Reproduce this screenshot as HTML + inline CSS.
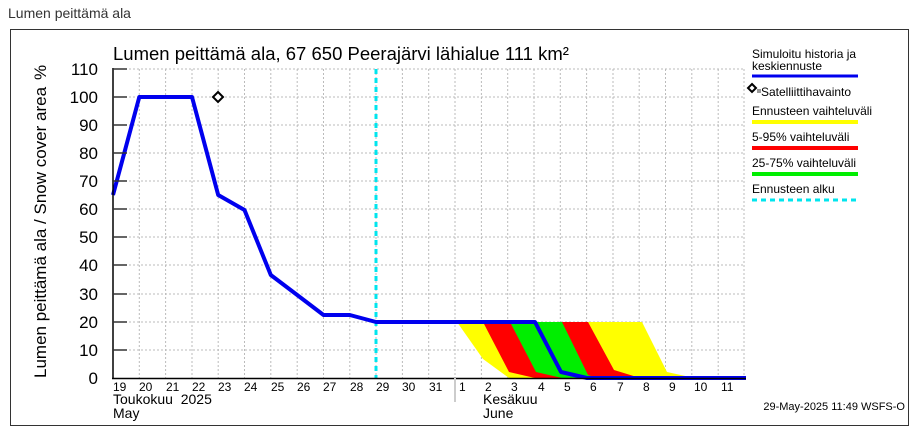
<!DOCTYPE html>
<html><head><meta charset="utf-8"><style>
body{margin:0;background:#fff;width:917px;height:434px;overflow:hidden}
svg{display:block;font-family:"Liberation Sans",sans-serif}
</style></head><body>
<svg width="917" height="434" viewBox="0 0 917 434">
<text x="8" y="18" font-size="14" fill="#333">Lumen peittämä ala</text>
<rect x="10.5" y="29.5" width="898" height="396" fill="#fff" stroke="#333" stroke-width="1"/>
<text x="113" y="60" font-size="18.5" fill="#000">Lumen peittämä ala, 67 650 Peerajärvi lähialue 111 km²</text>
<!-- grid -->
<g stroke="#bbb" stroke-width="1" stroke-dasharray="2,2">
<line x1="113" y1="69" x2="744" y2="69"/><line x1="113" y1="97" x2="744" y2="97"/><line x1="113" y1="125" x2="744" y2="125"/><line x1="113" y1="153" x2="744" y2="153"/><line x1="113" y1="181" x2="744" y2="181"/><line x1="113" y1="209" x2="744" y2="209"/><line x1="113" y1="237" x2="744" y2="237"/><line x1="113" y1="265" x2="744" y2="265"/><line x1="113" y1="294" x2="744" y2="294"/><line x1="113" y1="322" x2="744" y2="322"/><line x1="113" y1="350" x2="744" y2="350"/>
<line x1="139.3" y1="69" x2="139.3" y2="378"/><line x1="165.6" y1="69" x2="165.6" y2="378"/><line x1="192" y1="69" x2="192" y2="378"/><line x1="218.2" y1="69" x2="218.2" y2="378"/><line x1="244.5" y1="69" x2="244.5" y2="378"/><line x1="270.8" y1="69" x2="270.8" y2="378"/><line x1="297.2" y1="69" x2="297.2" y2="378"/><line x1="323.5" y1="69" x2="323.5" y2="378"/><line x1="349.8" y1="69" x2="349.8" y2="378"/><line x1="376" y1="69" x2="376" y2="378"/><line x1="402.4" y1="69" x2="402.4" y2="378"/><line x1="428.7" y1="69" x2="428.7" y2="378"/><line x1="455" y1="69" x2="455" y2="378"/><line x1="481.4" y1="69" x2="481.4" y2="378"/><line x1="507.7" y1="69" x2="507.7" y2="378"/><line x1="534" y1="69" x2="534" y2="378"/><line x1="560.3" y1="69" x2="560.3" y2="378"/><line x1="586.6" y1="69" x2="586.6" y2="378"/><line x1="613" y1="69" x2="613" y2="378"/><line x1="639.2" y1="69" x2="639.2" y2="378"/><line x1="665.5" y1="69" x2="665.5" y2="378"/><line x1="691.8" y1="69" x2="691.8" y2="378"/><line x1="718.2" y1="69" x2="718.2" y2="378"/><line x1="744" y1="69" x2="744" y2="378"/>
</g>
<!-- bands -->
<polygon points="457,322 642,322 667,372 690,377 713,378 509,378 483,359" fill="#ffff00"/>
<polygon points="483,322 588,322 614,370 640,378 535,378 509,372" fill="#ff0000"/>
<polygon points="510,322 562,322 588,375 598,378 562,378 536,372" fill="#00ee00"/>
<line x1="376" y1="69" x2="376" y2="378" stroke="#00e5ee" stroke-width="3" stroke-dasharray="5,4"/>
<polyline points="113,195 139.3,97 192,97 218.2,195 244.5,210 270.8,275 297.2,295 323.5,315 349.8,315 376,322 535,322 561,372 587,378 746,378" fill="none" stroke="#0000ee" stroke-width="4" stroke-linejoin="round"/>
<path d="M218,92 L223,97 L218,102 L213,97 Z" fill="#fff" stroke="#000" stroke-width="2"/>
<!-- axes -->
<line x1="113" y1="68" x2="113" y2="379" stroke="#000" stroke-width="1.5"/>
<line x1="112" y1="378.5" x2="746" y2="378.5" stroke="#000" stroke-width="1.5"/>
<g stroke="#333" stroke-width="1.5">
<line x1="113" y1="69" x2="127" y2="69"/><line x1="113" y1="97" x2="127" y2="97"/><line x1="113" y1="125" x2="127" y2="125"/><line x1="113" y1="153" x2="127" y2="153"/><line x1="113" y1="181" x2="127" y2="181"/><line x1="113" y1="209" x2="127" y2="209"/><line x1="113" y1="237" x2="127" y2="237"/><line x1="113" y1="265" x2="127" y2="265"/><line x1="113" y1="294" x2="127" y2="294"/><line x1="113" y1="322" x2="127" y2="322"/><line x1="113" y1="350" x2="127" y2="350"/>
</g>
<line x1="455" y1="378" x2="455" y2="402" stroke="#ccc" stroke-width="2"/>
<g font-size="17" text-anchor="end" fill="#000">
<text x="98" y="75">110</text><text x="98" y="103">100</text><text x="98" y="131">90</text><text x="98" y="159">80</text><text x="98" y="187">70</text><text x="98" y="215">60</text><text x="98" y="243">50</text><text x="98" y="271">40</text><text x="98" y="300">30</text><text x="98" y="328">20</text><text x="98" y="356">10</text><text x="98" y="384">0</text>
</g>
<text transform="translate(46,378) rotate(-90)" font-size="17">Lumen peittämä ala / Snow cover area</text>
<text transform="translate(46,80) rotate(-90)" font-size="17">%</text>
<g font-size="12" fill="#000">
<text x="113" y="391">19</text><text x="139" y="391">20</text><text x="166" y="391">21</text><text x="192" y="391">22</text><text x="218" y="391">23</text><text x="244" y="391">24</text><text x="271" y="391">25</text><text x="297" y="391">26</text><text x="323" y="391">27</text><text x="350" y="391">28</text><text x="376" y="391">29</text><text x="402" y="391">30</text><text x="429" y="391">31</text><text x="459" y="391">1</text><text x="485" y="391">2</text><text x="511" y="391">3</text><text x="538" y="391">4</text><text x="564" y="391">5</text><text x="590" y="391">6</text><text x="617" y="391">7</text><text x="643" y="391">8</text><text x="669" y="391">9</text><text x="694" y="391">10</text><text x="721" y="391">11</text>
</g>
<g font-size="14" fill="#000">
<text x="113" y="404">Toukokuu&#160; 2025</text><text x="113" y="418">May</text>
<text x="483" y="404">Kesäkuu</text><text x="483" y="418">June</text>
</g>
<text x="905" y="410" font-size="11" text-anchor="end">29-May-2025 11:49 WSFS-O</text>
<!-- legend -->
<g font-size="12" fill="#000">
<text x="752" y="58">Simuloitu historia ja</text><text x="752" y="70">keskiennuste</text>
<line x1="752" y1="76" x2="858" y2="76" stroke="#0000ee" stroke-width="3"/>
<path d="M752,84 L756,88 L752,92 L748,88 Z" fill="#fff" stroke="#000" stroke-width="2"/>
<rect x="757" y="89" width="4" height="4" fill="#999"/>
<text x="761" y="96">Satelliittihavainto</text>
<text x="752" y="115">Ennusteen vaihteluväli</text>
<line x1="752" y1="122" x2="858" y2="122" stroke="#ffff00" stroke-width="4"/>
<text x="752" y="141">5-95% vaihteluväli</text>
<line x1="752" y1="148" x2="858" y2="148" stroke="#ff0000" stroke-width="4"/>
<text x="752" y="167">25-75% vaihteluväli</text>
<line x1="752" y1="174" x2="858" y2="174" stroke="#00ee00" stroke-width="4"/>
<text x="752" y="193">Ennusteen alku</text>
<line x1="752" y1="200" x2="858" y2="200" stroke="#00e5ee" stroke-width="3" stroke-dasharray="5,4"/>
</g>
</svg>
</body></html>
